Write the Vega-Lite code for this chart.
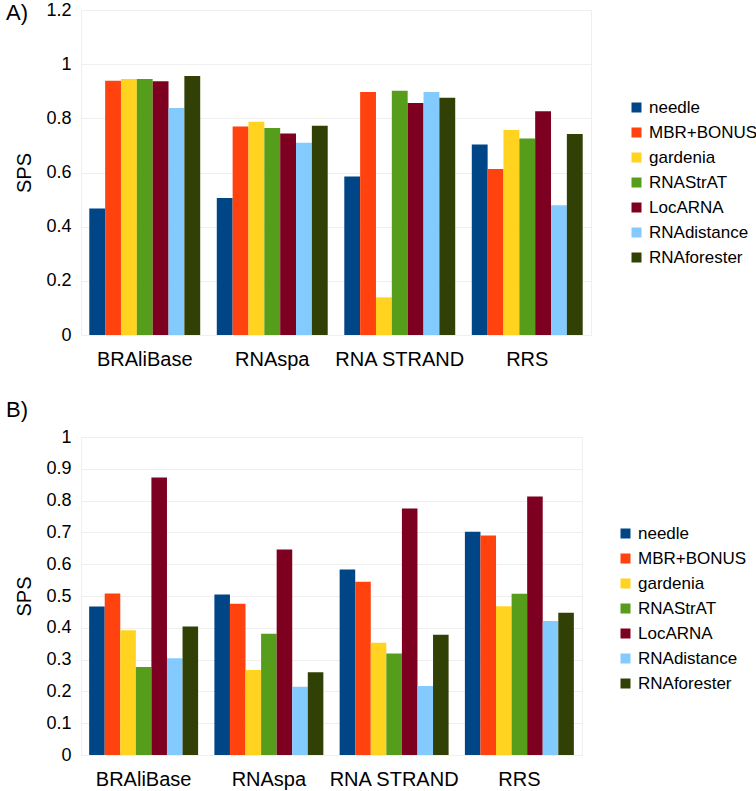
{
  "$schema": "https://vega.github.io/schema/vega-lite/v6.json",
  "padding": {"left": 5, "top": 0, "right": 5, "bottom": 0},
  "background": "white",
  "config": {
    "font": "Liberation Sans",
    "view": {"stroke": "#efefef"},
    "axis": {"labelFont": "Liberation Sans", "titleFont": "Liberation Sans", "labelColor": "#000", "titleColor": "#000", "gridColor": "#efefef", "domain": false, "ticks": false},
    "legend": {"labelFont": "Liberation Sans", "labelColor": "#000"},
    "title": {"font": "Liberation Sans", "color": "#000"}
  },
  "data": {
    "values": [
      {"panel": "A", "dataset": "BRAliBase", "method": "needle", "sps": 0.467},
      {"panel": "A", "dataset": "BRAliBase", "method": "MBR+BONUS", "sps": 0.939},
      {"panel": "A", "dataset": "BRAliBase", "method": "gardenia", "sps": 0.945},
      {"panel": "A", "dataset": "BRAliBase", "method": "RNAStrAT", "sps": 0.945},
      {"panel": "A", "dataset": "BRAliBase", "method": "LocARNA", "sps": 0.937},
      {"panel": "A", "dataset": "BRAliBase", "method": "RNAdistance", "sps": 0.838},
      {"panel": "A", "dataset": "BRAliBase", "method": "RNAforester", "sps": 0.956},
      {"panel": "A", "dataset": "RNAspa", "method": "needle", "sps": 0.506},
      {"panel": "A", "dataset": "RNAspa", "method": "MBR+BONUS", "sps": 0.770},
      {"panel": "A", "dataset": "RNAspa", "method": "gardenia", "sps": 0.787},
      {"panel": "A", "dataset": "RNAspa", "method": "RNAStrAT", "sps": 0.764},
      {"panel": "A", "dataset": "RNAspa", "method": "LocARNA", "sps": 0.744},
      {"panel": "A", "dataset": "RNAspa", "method": "RNAdistance", "sps": 0.710},
      {"panel": "A", "dataset": "RNAspa", "method": "RNAforester", "sps": 0.773},
      {"panel": "A", "dataset": "RNA STRAND", "method": "needle", "sps": 0.585},
      {"panel": "A", "dataset": "RNA STRAND", "method": "MBR+BONUS", "sps": 0.897},
      {"panel": "A", "dataset": "RNA STRAND", "method": "gardenia", "sps": 0.139},
      {"panel": "A", "dataset": "RNA STRAND", "method": "RNAStrAT", "sps": 0.902},
      {"panel": "A", "dataset": "RNA STRAND", "method": "LocARNA", "sps": 0.857},
      {"panel": "A", "dataset": "RNA STRAND", "method": "RNAdistance", "sps": 0.897},
      {"panel": "A", "dataset": "RNA STRAND", "method": "RNAforester", "sps": 0.876},
      {"panel": "A", "dataset": "RRS", "method": "needle", "sps": 0.703},
      {"panel": "A", "dataset": "RRS", "method": "MBR+BONUS", "sps": 0.613},
      {"panel": "A", "dataset": "RRS", "method": "gardenia", "sps": 0.757},
      {"panel": "A", "dataset": "RRS", "method": "RNAStrAT", "sps": 0.726},
      {"panel": "A", "dataset": "RRS", "method": "LocARNA", "sps": 0.826},
      {"panel": "A", "dataset": "RRS", "method": "RNAdistance", "sps": 0.479},
      {"panel": "A", "dataset": "RRS", "method": "RNAforester", "sps": 0.742},
      {"panel": "B", "dataset": "BRAliBase", "method": "needle", "sps": 0.467},
      {"panel": "B", "dataset": "BRAliBase", "method": "MBR+BONUS", "sps": 0.508},
      {"panel": "B", "dataset": "BRAliBase", "method": "gardenia", "sps": 0.392},
      {"panel": "B", "dataset": "BRAliBase", "method": "RNAStrAT", "sps": 0.277},
      {"panel": "B", "dataset": "BRAliBase", "method": "LocARNA", "sps": 0.873},
      {"panel": "B", "dataset": "BRAliBase", "method": "RNAdistance", "sps": 0.304},
      {"panel": "B", "dataset": "BRAliBase", "method": "RNAforester", "sps": 0.404},
      {"panel": "B", "dataset": "RNAspa", "method": "needle", "sps": 0.505},
      {"panel": "B", "dataset": "RNAspa", "method": "MBR+BONUS", "sps": 0.476},
      {"panel": "B", "dataset": "RNAspa", "method": "gardenia", "sps": 0.267},
      {"panel": "B", "dataset": "RNAspa", "method": "RNAStrAT", "sps": 0.381},
      {"panel": "B", "dataset": "RNAspa", "method": "LocARNA", "sps": 0.646},
      {"panel": "B", "dataset": "RNAspa", "method": "RNAdistance", "sps": 0.215},
      {"panel": "B", "dataset": "RNAspa", "method": "RNAforester", "sps": 0.260},
      {"panel": "B", "dataset": "RNA STRAND", "method": "needle", "sps": 0.583},
      {"panel": "B", "dataset": "RNA STRAND", "method": "MBR+BONUS", "sps": 0.545},
      {"panel": "B", "dataset": "RNA STRAND", "method": "gardenia", "sps": 0.353},
      {"panel": "B", "dataset": "RNA STRAND", "method": "RNAStrAT", "sps": 0.319},
      {"panel": "B", "dataset": "RNA STRAND", "method": "LocARNA", "sps": 0.775},
      {"panel": "B", "dataset": "RNA STRAND", "method": "RNAdistance", "sps": 0.217},
      {"panel": "B", "dataset": "RNA STRAND", "method": "RNAforester", "sps": 0.378},
      {"panel": "B", "dataset": "RRS", "method": "needle", "sps": 0.702},
      {"panel": "B", "dataset": "RRS", "method": "MBR+BONUS", "sps": 0.690},
      {"panel": "B", "dataset": "RRS", "method": "gardenia", "sps": 0.468},
      {"panel": "B", "dataset": "RRS", "method": "RNAStrAT", "sps": 0.507},
      {"panel": "B", "dataset": "RRS", "method": "LocARNA", "sps": 0.813},
      {"panel": "B", "dataset": "RRS", "method": "RNAdistance", "sps": 0.421},
      {"panel": "B", "dataset": "RRS", "method": "RNAforester", "sps": 0.447}
    ]
  },
  "resolve": {"scale": {"color": "independent", "y": "independent", "x": "independent", "xOffset": "independent"}, "legend": {"color": "independent"}},
  "spacing": 28,
  "vconcat": [
    {
      "title": {"text": "A)", "anchor": "start", "frame": "bounds", "fontSize": 22, "fontWeight": "normal", "dx": -9, "dy": 24, "offset": 0},
      "width": 510,
      "height": 325,
      "transform": [{"filter": "datum.panel === 'A'"}],
      "mark": {"type": "bar"},
      "encoding": {
        "x": {"field": "dataset", "type": "nominal", "sort": ["BRAliBase", "RNAspa", "RNA STRAND", "RRS"], "scale": {"paddingInner": 0.13, "paddingOuter": 0.065}, "axis": {"title": null, "labelAngle": 0, "labelFontSize": 20, "labelPadding": 14, "grid": false}},
        "xOffset": {"field": "method", "type": "nominal", "sort": ["needle", "MBR+BONUS", "gardenia", "RNAStrAT", "LocARNA", "RNAdistance", "RNAforester"], "scale": {"paddingInner": 0, "paddingOuter": 0}},
        "y": {"field": "sps", "type": "quantitative", "scale": {"domain": [0, 1.2], "nice": false}, "axis": {"title": "SPS", "titleFontSize": 20, "titleFontWeight": "normal", "titlePadding": 11, "labelFontSize": 18, "labelPadding": 10, "format": "~g", "values": [0, 0.2, 0.4, 0.6, 0.8, 1, 1.2]}},
        "color": {"field": "method", "type": "nominal", "sort": ["needle", "MBR+BONUS", "gardenia", "RNAStrAT", "LocARNA", "RNAdistance", "RNAforester"], "scale": {"domain": ["needle", "MBR+BONUS", "gardenia", "RNAStrAT", "LocARNA", "RNAdistance", "RNAforester"], "range": ["#004586", "#ff420e", "#ffd320", "#579d1c", "#7e0021", "#83caff", "#314004"]}, "legend": {"title": null, "orient": "none", "legendX": 547, "legendY": 89, "symbolType": "square", "symbolSize": 100, "symbolStrokeWidth": 0, "labelFontSize": 17, "rowPadding": 7, "labelOffset": 4, "labelLimit": 200}}
      }
    },
    {
      "title": {"text": "B)", "anchor": "start", "frame": "bounds", "fontSize": 22, "fontWeight": "normal", "dx": -9, "offset": 6},
      "width": 501,
      "height": 318,
      "transform": [{"filter": "datum.panel === 'B'"}],
      "mark": {"type": "bar"},
      "encoding": {
        "x": {"field": "dataset", "type": "nominal", "sort": ["BRAliBase", "RNAspa", "RNA STRAND", "RRS"], "scale": {"paddingInner": 0.13, "paddingOuter": 0.065}, "axis": {"title": null, "labelAngle": 0, "labelFontSize": 20, "labelPadding": 14, "grid": false}},
        "xOffset": {"field": "method", "type": "nominal", "sort": ["needle", "MBR+BONUS", "gardenia", "RNAStrAT", "LocARNA", "RNAdistance", "RNAforester"], "scale": {"paddingInner": 0, "paddingOuter": 0}},
        "y": {"field": "sps", "type": "quantitative", "scale": {"domain": [0, 1], "nice": false}, "axis": {"title": "SPS", "titleFontSize": 20, "titleFontWeight": "normal", "titlePadding": 11, "labelFontSize": 18, "labelPadding": 10, "format": "~g", "values": [0, 0.1, 0.2, 0.3, 0.4, 0.5, 0.6, 0.7, 0.8, 0.9, 1]}},
        "color": {"field": "method", "type": "nominal", "sort": ["needle", "MBR+BONUS", "gardenia", "RNAStrAT", "LocARNA", "RNAdistance", "RNAforester"], "scale": {"domain": ["needle", "MBR+BONUS", "gardenia", "RNAStrAT", "LocARNA", "RNAdistance", "RNAforester"], "range": ["#004586", "#ff420e", "#ffd320", "#579d1c", "#7e0021", "#83caff", "#314004"]}, "legend": {"title": null, "orient": "none", "legendX": 536, "legendY": 88, "symbolType": "square", "symbolSize": 100, "symbolStrokeWidth": 0, "labelFontSize": 17, "rowPadding": 7, "labelOffset": 4, "labelLimit": 200}}
      }
    }
  ]
}
